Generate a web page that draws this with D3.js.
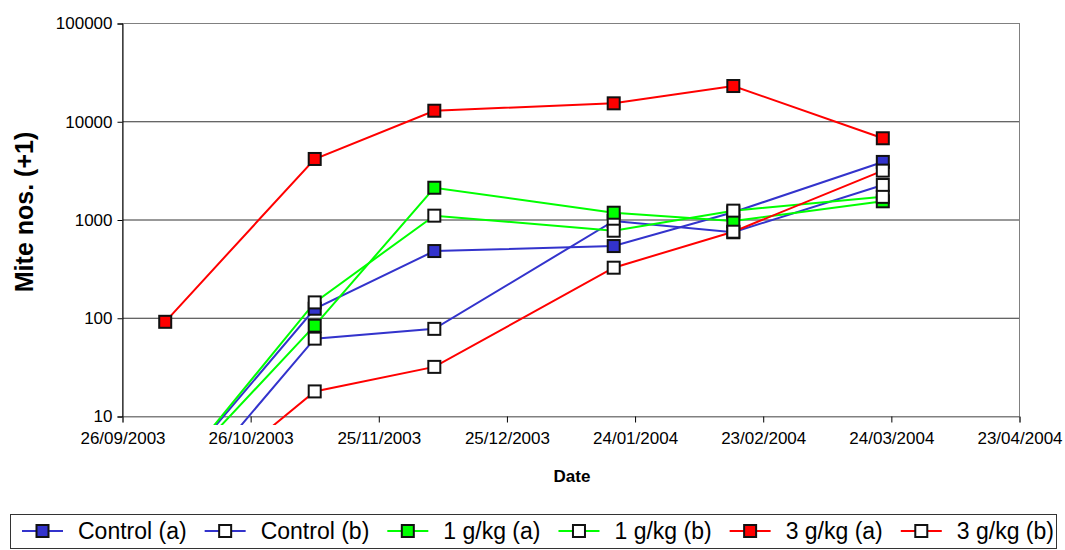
<!DOCTYPE html>
<html lang="en">
<head>
<meta charset="utf-8">
<title>Mite numbers</title>
<script src="https://d3js.org/d3.v7.min.js"></script>
<style>
  body { margin: 0; background: #fff; font-family: "Liberation Sans", Arial, sans-serif; }
  svg text { font-family: "Liberation Sans", Arial, sans-serif; fill: #000; }
</style>
</head>
<body>
<div id="chart"></div>
<script>
// sampling dates and series values (mite numbers + 1)
var dates = ["06/10/2003", "10/11/2003", "08/12/2003", "19/01/2004", "16/02/2004", "22/03/2004"];
var controlA = [2, 125, 483, 543, 1200, 3900];
var controlB = [1, 62, 78, 977, 750, 2270];
var g1A = [2, 84, 2130, 1186, 977, 1550];
var g1B = [2, 145, 1107, 778, 1245, 1720];
var g3A = [92, 4180, 12950, 15400, 23100, 6790];
var g3B = [1, 18, 32, 327, 760, 3180];

var xTickLabels = ["26/09/2003", "26/10/2003", "25/11/2003", "25/12/2003", "24/01/2004", "23/02/2004", "24/03/2004", "23/04/2004"];
var yTicks = [10, 100, 1000, 10000, 100000];

var seriesNames = ["Control (a)", "Control (b)", "1 g/kg (a)", "1 g/kg (b)", "3 g/kg (a)", "3 g/kg (b)"];
var seriesValues = [controlA, controlB, g1A, g1B, g3A, g3B];
var seriesColors = ["#3333cc", "#3333cc", "#00ff00", "#00ff00", "#ff0000", "#ff0000"];
var seriesFilled = [true, false, true, false, true, false];

var W = 1065, H = 550;
var parse = d3.timeParse("%d/%m/%Y");
var fmt = d3.timeFormat("%d/%m/%Y");

var svg = d3.select("#chart").append("svg")
    .attr("width", W).attr("height", H);

var x = d3.scaleTime()
    .domain([parse(xTickLabels[0]), parse(xTickLabels[xTickLabels.length - 1])])
    .range([122.5, 1019.5]);

var y = d3.scaleLog()
    .domain([10, 100000])
    .range([416.5, 23.5]);

// gridlines
svg.append("g").selectAll("line")
    .data(yTicks.slice(1))
    .enter().append("line")
    .attr("x1", x.range()[0]).attr("x2", x.range()[1])
    .attr("y1", function(d) { return y(d); })
    .attr("y2", function(d) { return y(d); })
    .attr("stroke", "#333").attr("stroke-width", 1);

// plot area border
svg.append("rect")
    .attr("x", x.range()[0]).attr("y", y.range()[1])
    .attr("width", x.range()[1] - x.range()[0])
    .attr("height", y.range()[0] - y.range()[1])
    .attr("fill", "none").attr("stroke", "#808080").attr("stroke-width", 1);

// y axis
var yAxis = svg.append("g")
    .attr("transform", "translate(" + x.range()[0] + ",0)")
    .call(d3.axisLeft(y).tickValues(yTicks).tickFormat(d3.format("d")).tickSize(5).tickPadding(5));
yAxis.select(".domain").attr("stroke", "#000");
yAxis.selectAll("text").style("font-size", "17px");

// x axis
var xAxis = svg.append("g")
    .attr("transform", "translate(0," + y.range()[0] + ")")
    .call(d3.axisBottom(x).tickValues(xTickLabels.map(parse)).tickFormat(fmt).tickSize(6).tickPadding(9));
xAxis.select(".domain").attr("stroke", "#808080");
xAxis.selectAll("line").attr("stroke", "#000");
xAxis.selectAll("text").style("font-size", "17px");

// axis titles
svg.append("text")
    .attr("x", 572).attr("y", 482)
    .attr("text-anchor", "middle")
    .style("font-size", "17px").style("font-weight", "bold")
    .text("Date");

svg.append("text")
    .attr("transform", "translate(33,212) rotate(-90)")
    .attr("text-anchor", "middle")
    .style("font-size", "25px").style("font-weight", "bold")
    .text("Mite nos. (+1)");

// lines
svg.append("clipPath").attr("id", "clip")
    .append("rect")
    .attr("x", 122).attr("y", 20)
    .attr("width", 900).attr("height", 405);

var line = d3.line()
    .x(function(d, i) { return x(parse(dates[i])); })
    .y(function(d) { return y(d); });

var plot = svg.append("g").attr("clip-path", "url(#clip)");

seriesValues.forEach(function(vals, s) {
    plot.append("path")
        .attr("d", line(vals))
        .attr("fill", "none")
        .attr("stroke", seriesColors[s])
        .attr("stroke-width", 2);
});

// markers, drawn in series order so later ones sit on top
seriesValues.forEach(function(vals, s) {
    svg.append("g").selectAll("rect")
        .data(vals.map(function(v, i) { return {v: v, d: parse(dates[i])}; })
            .filter(function(p) { return p.v >= 10; }))
        .enter().append("rect")
        .attr("x", function(p) { return x(p.d) - 6; })
        .attr("y", function(p) { return y(p.v) - 6; })
        .attr("width", 12).attr("height", 12)
        .attr("fill", seriesFilled[s] ? seriesColors[s] : "#fff")
        .attr("stroke", "#111").attr("stroke-width", 2);
});

// legend
var legend = svg.append("g");
legend.append("rect")
    .attr("x", 10.5).attr("y", 514.5)
    .attr("width", 1046).attr("height", 34)
    .attr("fill", "#fff").attr("stroke", "#333").attr("stroke-width", 1);

var cx = 22;
seriesNames.forEach(function(name, s) {
    var g = legend.append("g").attr("transform", "translate(" + cx + ",531)");
    g.append("line")
        .attr("x1", 0).attr("x2", 41).attr("y1", 0).attr("y2", 0)
        .attr("stroke", seriesColors[s]).attr("stroke-width", 2);
    g.append("rect")
        .attr("x", 14.5).attr("y", -6).attr("width", 12).attr("height", 12)
        .attr("fill", seriesFilled[s] ? seriesColors[s] : "#fff")
        .attr("stroke", "#111").attr("stroke-width", 2);
    var t = g.append("text")
        .attr("x", 56).attr("y", 8)
        .style("font-size", "23px")
        .text(name);
    cx += 56 + t.node().getComputedTextLength() + 18;
});
</script>
</body>
</html>
